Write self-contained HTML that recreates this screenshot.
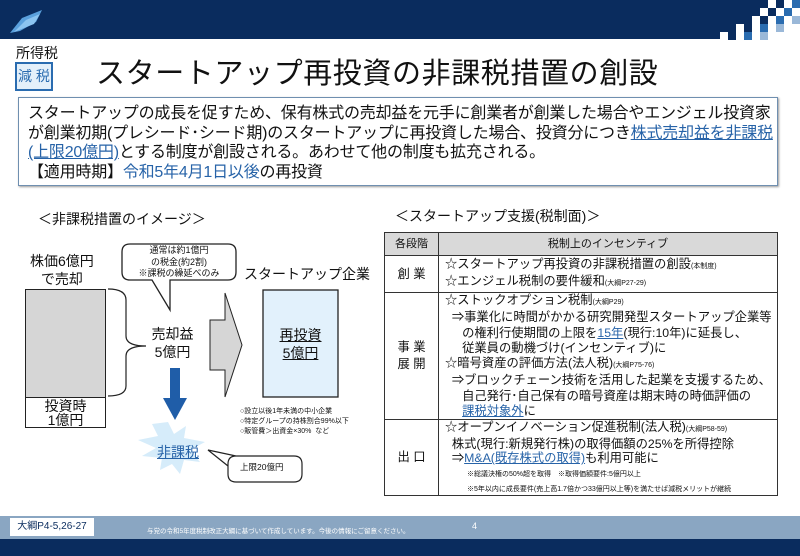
<!DOCTYPE html>
<html><head><meta charset="utf-8"><style>
*{margin:0;padding:0;box-sizing:border-box}
body{width:800px;height:556px;position:relative;background:#fff;overflow:hidden;font-family:"Liberation Sans","Noto Sans CJK JP",sans-serif;color:#111}
.a{position:absolute;white-space:nowrap}
.u{color:#2763a8;text-decoration:underline}
.b{color:#2763a8}
table{border-collapse:collapse;position:absolute;left:384px;top:232px;width:394px;table-layout:fixed}
td{border:1.5px solid #333;font-size:12.3px;line-height:15px;vertical-align:middle;white-space:nowrap;overflow:hidden}
.s{font-size:7px}
.xs{font-size:7px;line-height:10px}
</style></head><body>
<div class="a" style="left:0;top:0;width:800px;height:39px;background:#0a2c5e"></div>
<svg class="a" style="left:0;top:0" width="800" height="40">
<polygon points="10,33 22,18 42,10 36,22 20,31" fill="#5aa0dc"/>
<polygon points="14,32 26,20 40,14 34,24" fill="#8cc4f0"/>
<g>
<rect x="720" y="32" width="8" height="8" fill="#fff"/>
<rect x="728" y="32" width="8" height="8" fill="#0a2c5e"/>
<rect x="736" y="32" width="8" height="8" fill="#fff"/>
<rect x="744" y="32" width="8" height="8" fill="#2a6cb0"/>
<rect x="752" y="32" width="8" height="8" fill="#fff"/>
<rect x="760" y="32" width="8" height="8" fill="#9ab8d8"/>
<rect x="768" y="32" width="32" height="8" fill="#fff"/>
<rect x="736" y="24" width="8" height="8" fill="#fff"/>
<rect x="752" y="24" width="8" height="8" fill="#fff"/>
<rect x="760" y="24" width="8" height="8" fill="#2a6cb0"/>
<rect x="768" y="24" width="8" height="8" fill="#fff"/>
<rect x="776" y="24" width="8" height="8" fill="#9ab8d8"/>
<rect x="784" y="24" width="16" height="8" fill="#fff"/>
<rect x="752" y="16" width="8" height="8" fill="#fff"/>
<rect x="768" y="16" width="8" height="8" fill="#fff"/>
<rect x="776" y="16" width="8" height="8" fill="#2a6cb0"/>
<rect x="784" y="16" width="8" height="8" fill="#fff"/>
<rect x="792" y="16" width="8" height="8" fill="#9ab8d8"/>
<rect x="760" y="8" width="8" height="8" fill="#fff"/>
<rect x="776" y="8" width="8" height="8" fill="#fff"/>
<rect x="784" y="8" width="8" height="8" fill="#2a6cb0"/>
<rect x="792" y="8" width="8" height="8" fill="#fff"/>
<rect x="768" y="0" width="8" height="8" fill="#fff"/>
<rect x="784" y="0" width="8" height="8" fill="#fff"/>
<rect x="792" y="0" width="8" height="8" fill="#2a6cb0"/>
</g>
</svg>
<div class="a" style="left:16px;top:43px;font-size:14px">所得税</div>
<div class="a" style="left:15px;top:62px;width:38px;height:29px;border:2px solid #2a6cb0;background:#e4f0fa;color:#2a6cb0;font-size:14px;text-align:center;line-height:25px">減 税</div>
<div class="a" style="left:96px;top:50px;font-size:29px;letter-spacing:0.6px">スタートアップ再投資の非課税措置の創設</div>
<div class="a" style="left:18px;top:97px;width:760px;height:89px;border:1.5px solid #6f8fb0;box-shadow:1px 1px 2px #999"></div>
<div class="a" style="left:28px;top:104px;font-size:16px;line-height:19.5px;letter-spacing:-0.2px">スタートアップの成長を促すため、保有株式の売却益を元手に創業者が創業した場合やエンジェル投資家<br>が創業初期(プレシード･シード期)のスタートアップに再投資した場合、投資分につき<span class="u">株式売却益を非課税</span><br><span class="u">(上限20億円)</span>とする制度が創設される。あわせて他の制度も拡充される。<br>【適用時期】<span class="b">令和5年4月1日以後</span>の再投資</div>

<div class="a" style="left:38px;top:209px;font-size:14px">＜非課税措置のイメージ＞</div>
<div class="a" style="left:30px;top:252px;font-size:14px;line-height:18px;text-align:center">株価6億円<br>で売却</div>
<div class="a" style="left:25px;top:289px;width:81px;height:139px;border:1.5px solid #222;background:#fff"></div>
<div class="a" style="left:25px;top:289px;width:81px;height:109px;border:1.5px solid #222;background:#d6d6d6"></div>
<div class="a" style="left:25px;top:399px;width:81px;font-size:14px;line-height:14px;text-align:center">投資時<br>1億円</div>
<svg class="a" style="left:0;top:230px" width="400" height="260">
<path d="M108,59 Q126,59 126,70 L126,106 Q126,116 146,116 Q126,116 126,126 L126,156 Q126,166 108,166" fill="none" stroke="#222" stroke-width="1.2"/>
<path d="M130,14 Q122,14 122,22 L122,42 Q122,50 130,50 L152,50 L170,80 L170,50 L228,50 Q236,50 236,42 L236,22 Q236,14 228,14 Z" fill="#fff" stroke="#222" stroke-width="1.3"/>
<polygon points="210,90 225,90 225,63 242,115 225,167 225,140 210,140" fill="#d6d6d6" stroke="#222" stroke-width="1"/>
<rect x="263" y="60" width="75" height="107" fill="#e2f1fc" stroke="#222" stroke-width="1.3"/>
<rect x="170" y="138" width="10" height="32" fill="#1f5da8"/>
<polygon points="163,168 187,168 175,190" fill="#1f5da8"/>
<polygon points="168,192 174,204 186,196 184,208 205,212 190,220 200,232 184,230 180,244 172,234 160,240 162,228 142,226 156,218 138,210 158,206 152,194" fill="#d6ecfa"/>
<path d="M236,226 Q228,226 228,234 L228,244 Q228,252 236,252 L294,252 Q302,252 302,244 L302,234 Q302,226 294,226 L236,226 L208,220 L228,236" fill="#fff" stroke="#222" stroke-width="1.2"/>
</svg>
<div class="a" style="left:122px;top:245px;width:114px;font-size:9px;line-height:11.5px;text-align:center">通常は約1億円<br>の税金(約2割)<br>※課税の繰延べのみ</div>
<div class="a" style="left:145px;top:325px;width:55px;font-size:14px;line-height:18px;text-align:center">売却益<br>5億円</div>
<div class="a" style="left:244px;top:264px;font-size:14px">スタートアップ企業</div>
<div class="a" style="left:263px;top:326px;width:75px;font-size:14px;line-height:18px;text-align:center;text-decoration:underline">再投資<br>5億円</div>
<div class="a xs" style="left:240px;top:407px">○設立以後1年未満の中小企業<br>○特定グループの持株割合99%以下<br>○販管費＞出資金×30%&nbsp; など</div>
<div class="a u" style="left:157px;top:442px;font-size:14px">非課税</div>
<div class="a" style="left:240px;top:461px;font-size:8.5px">上限20億円</div>

<div class="a" style="left:395px;top:206px;font-size:14px">＜スタートアップ支援(税制面)＞</div>
<table>
<col style="width:54px"><col>
<tr style="height:23px;background:#d9d9d9"><td style="text-align:center;font-size:11px">各段階</td><td style="text-align:center;font-size:11px">税制上のインセンティブ</td></tr>
<tr style="height:37px"><td style="text-align:center">創 業</td><td style="padding-left:6px">☆スタートアップ再投資の非課税措置の創設<span class="s">(本制度)</span><br>☆エンジェル税制の要件緩和<span class="s">(大綱P27-29)</span></td></tr>
<tr style="height:126px"><td style="text-align:center;line-height:17px">事 業<br>展 開</td><td style="padding-left:6px;line-height:15.3px">☆ストックオプション税制<span class="s">(大綱P29)</span><br>&nbsp;&nbsp;⇒事業化に時間がかかる研究開発型スタートアップ企業等<br>&nbsp;&nbsp;&nbsp;&nbsp;&nbsp;の権利行使期間の上限を<span class="u">15年</span>(現行:10年)に延長し、<br>&nbsp;&nbsp;&nbsp;&nbsp;&nbsp;従業員の動機づけ(インセンティブ)に<br>☆暗号資産の評価方法(法人税)<span class="s">(大綱P75-76)</span><br>&nbsp;&nbsp;⇒ブロックチェーン技術を活用した起業を支援するため、<br>&nbsp;&nbsp;&nbsp;&nbsp;&nbsp;自己発行･自己保有の暗号資産は期末時の時価評価の<br>&nbsp;&nbsp;&nbsp;&nbsp;&nbsp;<span class="u">課税対象外</span>に</td></tr>
<tr style="height:72px"><td style="text-align:center">出 口</td><td style="padding-left:6px;line-height:14px">☆オープンイノベーション促進税制(法人税)<span class="s">(大綱P58-59)</span><br>&nbsp;&nbsp;株式(現行:新規発行株)の取得価額の25%を所得控除<br>&nbsp;&nbsp;⇒<span class="u">M&amp;A(既存株式の取得)</span>も利用可能に<br><span class="xs" style="padding-left:22px">※総議決権の50%超を取得　※取得価額要件:5億円以上</span><br><span class="xs" style="padding-left:22px">※5年以内に成長要件(売上高1.7倍かつ33億円以上等)を満たせば減税メリットが継続</span></td></tr>
</table>

<div class="a" style="left:0;top:516px;width:800px;height:23px;background:#8aa6c2"></div>
<div class="a" style="left:0;top:539px;width:800px;height:17px;background:#0a2c5e"></div>
<div class="a" style="left:10px;top:518px;width:84px;height:18px;background:#fff;font-size:10px;text-align:center;line-height:18px;color:#0a2c5e">大綱P4-5,26-27</div>
<div class="a" style="left:147px;top:525px;font-size:6.5px;color:#fff">与党の令和5年度税制改正大綱に基づいて作成しています。今後の情報にご留意ください。</div>
<div class="a" style="left:472px;top:521px;font-size:9px;color:#fff">4</div>
</body></html>
